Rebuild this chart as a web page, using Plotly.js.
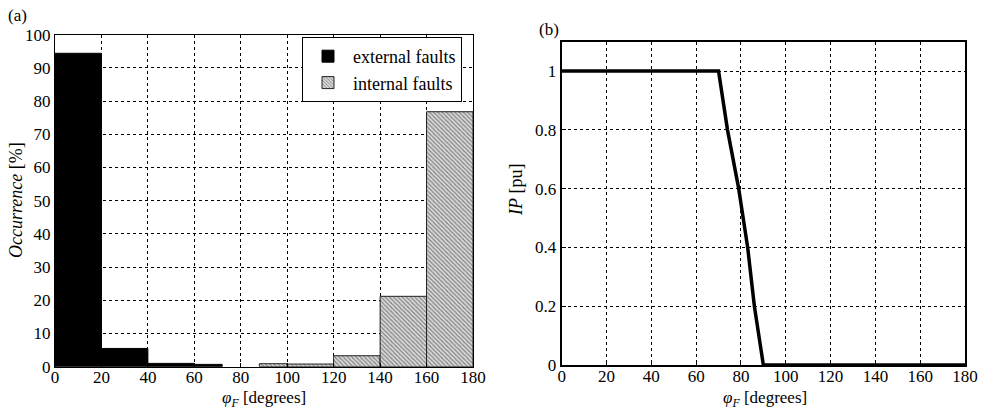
<!DOCTYPE html>
<html>
<head>
<meta charset="utf-8">
<script src="https://cdn.plot.ly/plotly-3.0.1.min.js"></script>
<style>html,body{margin:0;padding:0;background:#fff;}#chart{width:994px;height:410px;}</style>
</head>
<body>
<div id="chart"></div>
<script>
// ---- data ----
const extBinLo = [0, 20, 40, 60];
const extBinHi = [20, 40, 60, 72];
const extValues = [94.4, 5.5, 1.0, 0.7];
const intBinLo = [88, 100, 120, 140, 160];
const intBinHi = [100, 120, 140, 160, 180];
const intValues = [0.9, 0.8, 3.3, 21.2, 76.8];
const ipAngle = [0, 70, 74, 79, 83, 86, 90, 180];
const ipValue = [1, 1, 0.8, 0.6, 0.4, 0.2, 0, 0];
const xTicks = [0, 20, 40, 60, 80, 100, 120, 140, 160, 180];
const occTicks = [0, 10, 20, 30, 40, 50, 60, 70, 80, 90, 100];
const ipTicks = [0, 0.2, 0.4, 0.6, 0.8, 1];

const mid = (lo, hi) => lo.map((v, i) => (v + hi[i]) / 2);
const wid = (lo, hi) => lo.map((v, i) => hi[i] - v);

const FONT = 'Liberation Serif';
const W = 994, H = 410;
const px = v => v / W;
const py = v => 1 - v / H;

const traces = [
  {
    type: 'bar', name: 'external faults',
    x: mid(extBinLo, extBinHi), y: extValues, width: wid(extBinLo, extBinHi),
    marker: {color: '#000', line: {color: '#000', width: 1}},
    xaxis: 'x', yaxis: 'y'
  },
  {
    type: 'bar', name: 'internal faults',
    x: mid(intBinLo, intBinHi), y: intValues, width: wid(intBinLo, intBinHi),
    marker: {color: '#cfcfcf', line: {color: '#222', width: 1},
      pattern: {shape: '\\', fgcolor: '#7a7a7a', bgcolor: '#d8d8d8', size: 3, solidity: 0.35}},
    xaxis: 'x', yaxis: 'y'
  },
  {
    type: 'scatter', mode: 'lines', showlegend: false,
    x: ipAngle, y: ipValue,
    line: {color: '#000', width: 3.5},
    xaxis: 'x2', yaxis: 'y2', cliponaxis: false
  }
];

const axBase = {
  showgrid: true, gridcolor: '#000', griddash: 'dot', gridwidth: 1,
  zeroline: false, showline: true, linecolor: '#000', mirror: true,
  ticks: 'inside', ticklen: 4, tickcolor: '#000',
  tickfont: {family: FONT, size: 17, color: '#000'},
  automargin: false, fixedrange: true
};

const layout = {
  width: W, height: H,
  margin: {l: 0, r: 0, t: 0, b: 0},
  paper_bgcolor: '#fff', plot_bgcolor: '#fff',
  font: {family: FONT, size: 17, color: '#000'},
  barmode: 'overlay', bargap: 0,
  showlegend: true,
  legend: {
    x: px(302), y: py(37), xanchor: 'left', yanchor: 'top',
    bgcolor: '#fff', bordercolor: '#000', borderwidth: 1,
    font: {family: FONT, size: 18, color: '#000'},
    tracegroupgap: 0, itemwidth: 40
  },
  xaxis: Object.assign({}, axBase, {
    domain: [px(55), px(473)], range: [0, 180],
    tickvals: xTicks, linewidth: 1, anchor: 'y', ticklabelstandoff: -5
  }),
  yaxis: Object.assign({}, axBase, {
    domain: [py(366.7), py(34.7)], range: [0, 100],
    tickvals: occTicks, linewidth: 1, anchor: 'x'
  }),
  xaxis2: Object.assign({}, axBase, {
    domain: [px(561.7), px(965)], range: [0, 180],
    tickvals: xTicks, linewidth: 2, anchor: 'y2', ticklabelstandoff: -5
  }),
  yaxis2: Object.assign({}, axBase, {
    domain: [py(365), py(41.7)], range: [0, 1.1],
    tickvals: ipTicks, ticktext: ipTicks.map(String), linewidth: 2, anchor: 'x2'
  }),
  annotations: [
    {text: '(a)', xref: 'paper', yref: 'paper', x: px(6), y: py(15), xanchor: 'left', yanchor: 'middle', showarrow: false, font: {family: FONT, size: 17}},
    {text: '(b)', xref: 'paper', yref: 'paper', x: px(537), y: py(30), xanchor: 'left', yanchor: 'middle', showarrow: false, font: {family: FONT, size: 17}},
    {text: '<i>φ</i><sub><i>F</i></sub> [degrees]', xref: 'paper', yref: 'paper', x: px(264), y: py(399), xanchor: 'center', yanchor: 'middle', showarrow: false, font: {family: FONT, size: 17}},
    {text: '<i>φ</i><sub><i>F</i></sub> [degrees]', xref: 'paper', yref: 'paper', x: px(765), y: py(399), xanchor: 'center', yanchor: 'middle', showarrow: false, font: {family: FONT, size: 17}},
    {text: '<i>Occurrence</i> [%]', xref: 'paper', yref: 'paper', x: px(16), y: py(200), xanchor: 'center', yanchor: 'middle', textangle: -90, showarrow: false, font: {family: FONT, size: 18}},
    {text: '<i>IP</i> [pu]', xref: 'paper', yref: 'paper', x: px(516), y: py(190), xanchor: 'center', yanchor: 'middle', textangle: -90, showarrow: false, font: {family: FONT, size: 18}}
  ]
};

Plotly.newPlot('chart', traces, layout, {displayModeBar: false, staticPlot: true});
</script>
</body>
</html>
